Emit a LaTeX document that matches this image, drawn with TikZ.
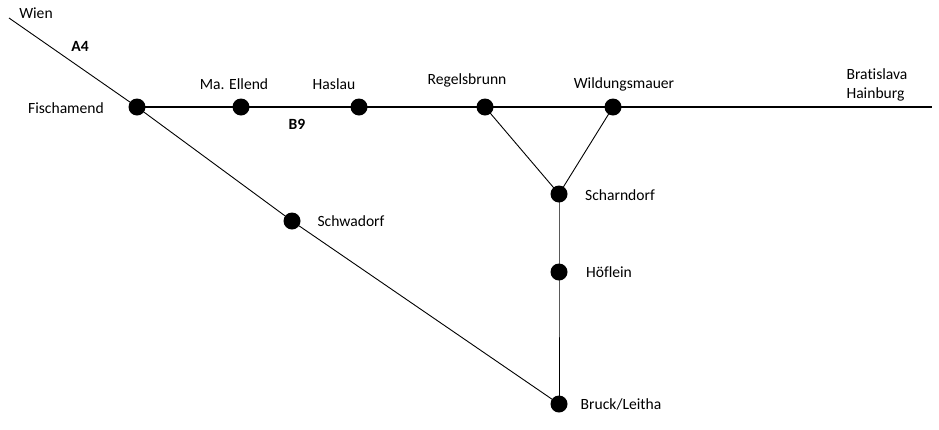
\documentclass[tikz,border=0pt]{standalone}
\usepackage{fontspec}
\setmainfont[Ligatures=NoCommon]{Carlito}
\begin{document}
\begin{tikzpicture}[x=1pt,y=-1pt,
  stop/.style={circle,fill=black,inner sep=0pt,minimum size=17pt},
  lbl/.style={font=\fontsize{15.6}{18.5}\selectfont,inner sep=0pt},
  bold/.style={font=\fontsize{15.6}{18.5}\selectfont\bfseries},
  road/.style={line width=1.1pt},
  conn/.style={line width=0.9pt}]
\useasboundingbox (0,0) rectangle (939,429);
\coordinate (wien) at (9,18);
\coordinate (east) at (932,107);
\node[stop] (fis) at (137,107) {};
\node[stop] (mae) at (241,107) {};
\node[stop] (has) at (359,107) {};
\node[stop] (reg) at (485,107) {};
\node[stop] (wil) at (613,107) {};
\node[stop] (sch) at (559,194) {};
\node[stop] (hof) at (559,272) {};
\node[stop] (swa) at (292,221) {};
\node[stop] (bru) at (559,404) {};
\draw[conn] (wien) -- (fis.center) -- (swa.center) -- (bru.center);
\draw[road] (fis.center) -- (east);
\draw[conn] (reg.center) -- (sch.center) -- (wil.center);
\draw[conn] (sch.center) -- (hof.center) -- (bru.center);
\node[lbl] (lwien) at (36,13) {Wien};
\node[lbl,bold] (la4) at (80,46) {A4};
\node[lbl] (lfis) at (66,108) {Fischamend};
\node[lbl] (lmae) at (234,84) {Ma. Ellend};
\node[lbl] (lhas) at (334,84) {Haslau};
\node[lbl,bold] (lb9) at (297,124) {B9};
\node[lbl] (lreg) at (467,80) {Regelsbrunn};
\node[lbl] (lwil) at (624,84) {Wildungsmauer};
\node[lbl,align=left] (lbra) at (877,85) {Bratislava\\Hainburg};
\node[lbl] (lsch) at (620,195) {Scharndorf};
\node[lbl] (lswa) at (351,221) {Schwadorf};
\node[lbl] (lhof) at (609,272) {Höflein};
\node[lbl] (lbru) at (621,404) {Bruck/Leitha};
\end{tikzpicture}
\end{document}
